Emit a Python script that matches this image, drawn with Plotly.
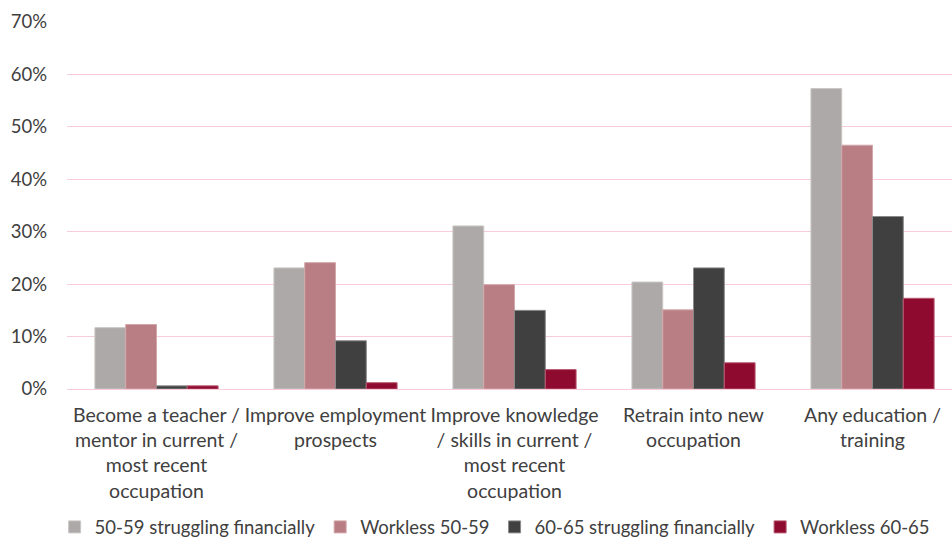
import plotly.graph_objects as go

categories = [
    "Become a teacher /<br>mentor in current /<br>most recent<br>occupation",
    "Improve employment<br>prospects",
    "Improve knowledge<br>/ skills in current /<br>most recent<br>occupation",
    "Retrain into new<br>occupation",
    "Any education /<br>training",
]
series_names = [
    "50-59 struggling financially",
    "Workless 50-59",
    "60-65 struggling financially",
    "Workless 60-65",
]
struggling_50_59 = [11.7, 23.1, 31.1, 20.4, 57.3]
workless_50_59 = [12.3, 24.1, 19.9, 15.1, 46.5]
struggling_60_65 = [0.6, 9.2, 15.0, 23.1, 32.9]
workless_60_65 = [0.6, 1.2, 3.7, 5.0, 17.3]

series_values = [struggling_50_59, workless_50_59, struggling_60_65, workless_60_65]
fill_colors = ["#ADA9A8", "#B97E83", "#404040", "#8E0A2E"]
edge_colors = ["#C9C6C5", "#D2A7AB", "#8A8A8A", "#B8576F"]

x_pos = list(range(len(categories)))

fig = go.Figure()
for name, vals, fc, ec in zip(series_names, series_values, fill_colors, edge_colors):
    fig.add_trace(go.Bar(
        name=name,
        x=x_pos,
        y=[v / 100 for v in vals],
        marker=dict(color=fc, line=dict(color=ec, width=1)),
        hoverinfo="skip",
    ))

font_family = "Lato, 'Open Sans', sans-serif"
text_color = "#404040"
grid_color = "#F8CCDA"

fig.update_layout(
    width=952,
    height=540,
    barmode="group",
    bargap=0.312,
    bargroupgap=0,
    plot_bgcolor="white",
    paper_bgcolor="white",
    margin=dict(l=67, r=0, t=22, b=150.5, autoexpand=False),
    font=dict(family=font_family, color=text_color, size=18),
    xaxis=dict(
        tickmode="array",
        tickvals=x_pos,
        ticktext=categories,
        range=[-0.5, 4.444],
        showgrid=False,
        zeroline=False,
        showline=False,
        ticks="",
        ticklabelstandoff=12,
        tickfont=dict(size=19.5, color=text_color),
        automargin=False,
        fixedrange=True,
    ),
    yaxis=dict(
        range=[0, 0.7],
        dtick=0.1,
        tickformat=".0%",
        showgrid=True,
        gridcolor=grid_color,
        gridwidth=1,
        zeroline=True,
        zerolinecolor=grid_color,
        zerolinewidth=1,
        showline=False,
        ticks="",
        ticklabelstandoff=19,
        tickfont=dict(size=18.5, color=text_color),
        automargin=False,
        fixedrange=True,
    ),
    legend=dict(
        orientation="h",
        x=-0.014,
        xanchor="left",
        y=-0.377,
        yanchor="middle",
        font=dict(size=18.5, color=text_color),
        itemwidth=30,
        traceorder="normal",
        bgcolor="rgba(0,0,0,0)",
    ),
    showlegend=True,
)

fig.write_html("out.html")
